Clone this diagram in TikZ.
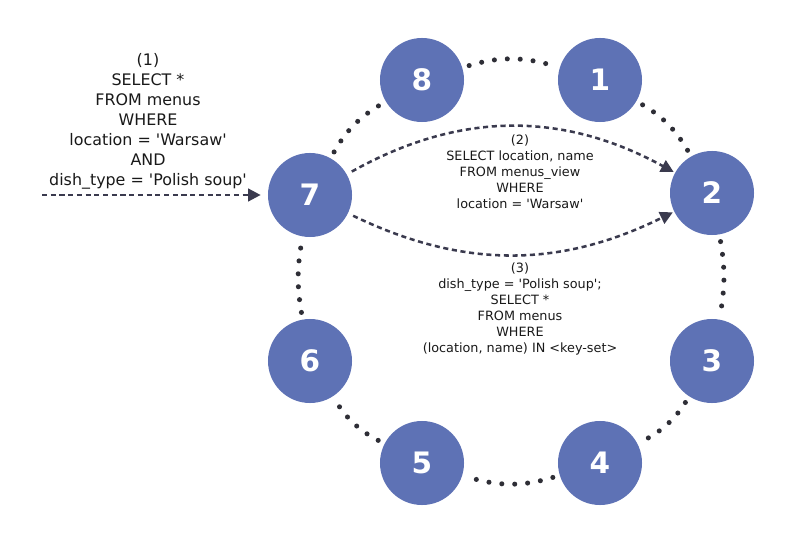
\documentclass[tikz,border=0pt]{standalone}
\usepackage{fontspec}
\setmainfont{DejaVu Sans}[Ligatures=TeXOff]
\usetikzlibrary{arrows.meta, positioning}

\definecolor{shardblue}{HTML}{5E72B5}
\definecolor{dotgray}{HTML}{2E2E36}
\definecolor{querygray}{HTML}{3A3A4E}

\tikzset{
  shard/.style={circle, fill=shardblue, text=white, minimum size=2.1cm, inner sep=0pt,
    font=\fontsize{21}{21}\selectfont\bfseries},
  ring/.style={draw=dotgray, line width=3.6pt, line cap=round,
    dash pattern=on 0pt off 9.2pt, shorten <=5pt, shorten >=5pt},
  query/.style={draw=querygray, line width=1.8pt, dash pattern=on 3.6pt off 2.6pt,
    -{Triangle[length=9pt, width=9pt]}},
  bigsql/.style={align=center, text=black!90, font=\fontsize{11.3}{14.2}\selectfont},
  smallsql/.style={align=center, text=black!90, font=\fontsize{9.1}{11.3}\selectfont}
}

\begin{document}
\begin{tikzpicture}[x=0.025cm, y=0.025cm]
    \useasboundingbox (0,0) rectangle (800,540);

    % Ring of nodes
    \node[shard] (n8) at (422,460) {8};
    \node[shard] (n1) at (600,460) {1};
    \node[shard] (n2) at (712,347) {2};
    \node[shard] (n3) at (712,179) {3};
    \node[shard] (n4) at (600,77) {4};
    \node[shard] (n5) at (422,77) {5};
    \node[shard] (n6) at (310,179) {6};
    \node[shard] (n7) at (310,345) {7};

    % Dotted ring links
    \draw[ring] (n8) to[bend left=17] (n1);
    \draw[ring, shorten >=3pt] (n1) to[bend left=15] (n2);
    \draw[ring] (n2) to[bend left=10] (n3);
    \draw[ring] (n3) to[bend left=15] (n4);
    \draw[ring] (n4) to[bend left=17] (n5);
    \draw[ring] (n5) to[bend left=15] (n6);
    \draw[ring] (n6) to[bend left=10] (n7);
    \draw[ring] (n7) to[bend left=15] (n8);

    % Client query (1)
    \coordinate (src) at (42,345);
    \draw[query, shorten >=5pt] (src) -- (n7);
    \node[bigsql] (q1) at (148,419) {(1)\\SELECT *\\FROM menus\\WHERE\\location = 'Warsaw'\\AND\\dish\_type = 'Polish soup'};

    % Query (2)
    \draw[query, shorten <=4pt, shorten >=1pt] (n7) to[bend left=29] (n2);
    \node[smallsql] (q2) at (520,368) {(2)\\SELECT location, name\\FROM menus\_view\\WHERE\\location = 'Warsaw'};

    % Query (3)
    \draw[query, shorten <=4pt, shorten >=1pt] (n7) to[bend right=26] (n2);
    \node[smallsql] (q3) at (520,231) {(3)\\dish\_type = 'Polish soup';\\SELECT *\\FROM menus\\WHERE\\(location, name) IN <key-set>};

\end{tikzpicture}
\end{document}
